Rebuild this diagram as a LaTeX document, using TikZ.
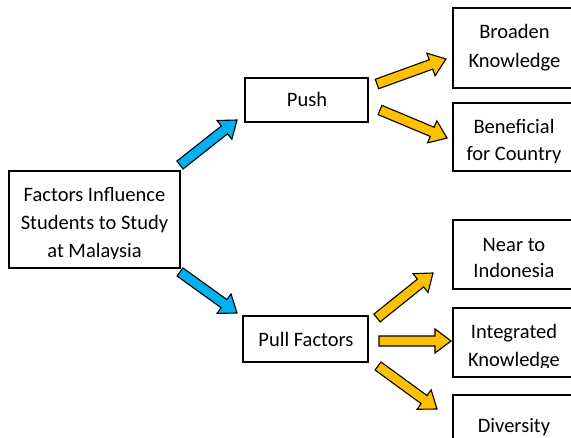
\documentclass[tikz,border=0pt]{standalone}
\usepackage{fontspec}
\setmainfont{Carlito}
\usetikzlibrary{calc}
\definecolor{arrblue}{HTML}{00B0F0}
\definecolor{arryel}{HTML}{FFC000}
\tikzset{
  box/.style={draw=black, line width=1.5pt, fill=white, inner sep=0pt},
  txt/.style={font=\fontsize{20.5}{24}\selectfont, anchor=base, inner sep=0pt},
  blockline/.style={draw=black, line width=1.1pt, line join=miter}
}
\newcommand{\blockarr}[3]{%
  \coordinate (ba-n) at ($(#2)!16pt!(#1)$);
  \filldraw[fill=#3, blockline]
    ($(#1)!5pt!90:(#2)$) -- ($(ba-n)!5pt!-90:(#1)$) -- ($(ba-n)!12pt!-90:(#1)$) -- (#2)
    -- ($(ba-n)!12pt!90:(#1)$) -- ($(ba-n)!5pt!90:(#1)$) -- ($(#1)!5pt!-90:(#2)$) -- cycle;}
\begin{document}
\begin{tikzpicture}[x=1pt, y=-1pt]
\useasboundingbox (0,0) rectangle (571,438);
\clip (0,0) rectangle (571,438);
% boxes
\node[box, minimum width=171pt, minimum height=97pt] (main) at (94.5,219.5) {};
\node[box, minimum width=123pt, minimum height=44pt] (push) at (306.5,100) {};
\node[box, minimum width=125pt, minimum height=46pt] (pull) at (305.5,339) {};
\node[box, minimum width=124pt, minimum height=80pt] (broaden) at (515,48) {};
\node[box, minimum width=124pt, minimum height=68pt] (benef) at (515,137) {};
\node[box, minimum width=124pt, minimum height=69pt] (near) at (515,254.5) {};
\node[box, minimum width=124pt, minimum height=69pt] (integ) at (515,342.5) {};
\node[box, minimum width=124pt, minimum height=60pt] (divers) at (515,425) {};
% texts
\begin{scope}
\clip (10,172) rectangle (179,259);
\node[txt] (m1) at (94.5,202) {Factors Influence};
\node[txt] (m2) at (94.5,230) {Students to Study};
\node[txt] (m3) at (94.5,257.5) {at Malaysia};
\end{scope}
\node[txt] (t-push) at (307,107) {Push};
\node[txt] (t-pull) at (306,347) {Pull Factors};
\node[txt] (b1) at (514.5,39) {Broaden};
\node[txt] (b2) at (514.5,68) {Knowledge};
\begin{scope}
\clip (454,104) rectangle (571,162.5);
\node[txt] (c1) at (514,134) {Beneficial};
\node[txt] (c2) at (514,161) {for Country};
\end{scope}
\node[txt] (n1) at (514,252) {Near to};
\node[txt] (n2) at (514,278) {Indonesia};
\begin{scope}
\clip (454,309) rectangle (571,368);
\node[txt] (i1) at (514,339) {Integrated};
\node[txt] (i2) at (514,367) {Knowledge};
\end{scope}
\node[txt] (d1) at (514,433) {Diversity};
% block arrows
\coordinate (b1t) at (180,165); \coordinate (b1h) at (237,120);
\coordinate (b2t) at (180,272); \coordinate (b2h) at (237,313);
\coordinate (y1t) at (377,84);  \coordinate (y1h) at (446,59);
\coordinate (y2t) at (380,110); \coordinate (y2h) at (447,138);
\coordinate (y3t) at (377,318); \coordinate (y3h) at (433,273);
\coordinate (y4t) at (379,341); \coordinate (y4h) at (451,341);
\coordinate (y5t) at (378,366); \coordinate (y5h) at (437,409);
\blockarr{b1t}{b1h}{arrblue}
\blockarr{b2t}{b2h}{arrblue}
\blockarr{y1t}{y1h}{arryel}
\blockarr{y2t}{y2h}{arryel}
\blockarr{y3t}{y3h}{arryel}
\blockarr{y4t}{y4h}{arryel}
\blockarr{y5t}{y5h}{arryel}
\end{tikzpicture}
\end{document}
